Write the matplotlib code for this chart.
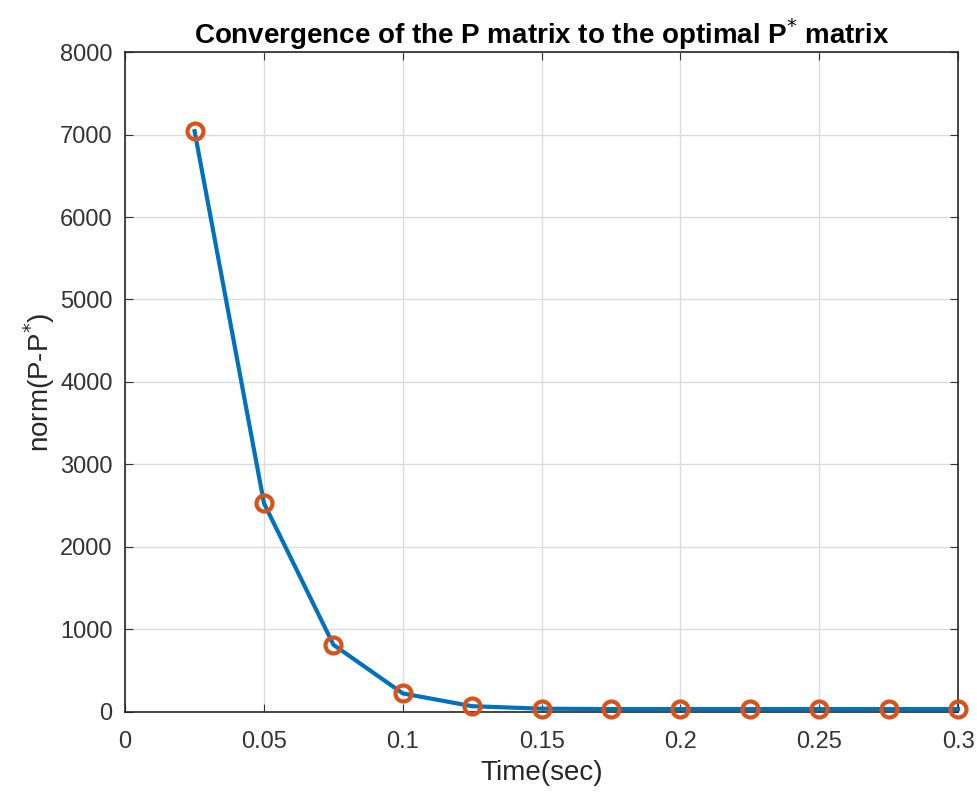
import numpy as np
import matplotlib
matplotlib.use("Agg")
from matplotlib import pyplot as plt

# data
t = [0.025, 0.05, 0.075, 0.1, 0.125, 0.15, 0.175, 0.2, 0.225, 0.25, 0.275, 0.3]
err = [7040, 2530, 815, 225, 70, 40, 35, 35, 35, 35, 35, 35]

xticks = [0, 0.05, 0.1, 0.15, 0.2, 0.25, 0.3]
xlabels = ['0', '0.05', '0.1', '0.15', '0.2', '0.25', '0.3']
yticks = [0, 1000, 2000, 3000, 4000, 5000, 6000, 7000, 8000]

plt.rcParams['font.family'] = ['Liberation Sans', 'DejaVu Sans']

fig = plt.figure(figsize=(9.78, 7.94), dpi=100)
ax = fig.add_axes([0.128, 0.1033, 0.8516, 0.8312])

ax.plot(t, err, color='#0072BD', linewidth=3, zorder=3, clip_on=False)
ax.plot(t, err, 'o', markersize=11.5, markerfacecolor='none', markeredgecolor='#D95319',
        markeredgewidth=3, zorder=4, clip_on=False)

ax.set_xlim(0, 0.3)
ax.set_ylim(0, 8000)
ax.set_xticks(xticks)
ax.set_xticklabels(xlabels)
ax.set_yticks(yticks)
ax.grid(True, color='#dcdcdc', linewidth=1)
ax.set_axisbelow(True)
ax.tick_params(direction='in', length=6, labelsize=17, colors='#333333', top=True, right=True,
               labeltop=False, labelright=False)
ax.tick_params(axis='x', pad=14)
ax.tick_params(axis='y', pad=9)
for s in ax.spines.values():
    s.set_color('#262626')
    s.set_linewidth(1.2)

ax.set_xlabel('Time(sec)', fontsize=20, color='#262626', labelpad=5)
ax.set_ylabel('norm(P-P$^{*}$)', fontsize=20, color='#262626', labelpad=2)
ax.set_title('Convergence of the P matrix to the optimal P$^{*}$ matrix', fontsize=20,
             fontweight='bold', pad=6)

fig.savefig('out.png', dpi=100)
